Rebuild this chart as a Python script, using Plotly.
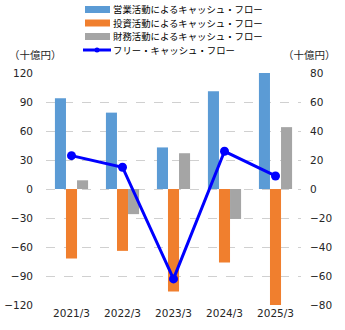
import plotly.graph_objects as go

# Cash flow figures (billion yen) by fiscal year end
periods = ["2021/3", "2022/3", "2023/3", "2024/3", "2025/3"]
operating_cf = [94, 79, 43, 101, 131]
investing_cf = [-72, -64, -106, -76, -122]
financing_cf = [9, -26, 37, -31, 64]
free_cf = [23, 15, -62, 26, 9]

left_ticks = [-120, -90, -60, -30, 0, 30, 60, 90, 120]
right_ticks = [-80, -60, -40, -20, 0, 20, 40, 60, 80]

bar_names = ["営業活動によるキャッシュ・フロー",
             "投資活動によるキャッシュ・フロー",
             "財務活動によるキャッシュ・フロー"]
line_name = "フリー・キャッシュ・フロー"
bar_colors = ["#5B9BD5", "#F07F2E", "#A5A5A5"]
line_color = "#0000FF"
unit_label = "（十億円）"

W, H = 345, 330
ML, MR, MT, MB = 46, 44, 73, 25
PW, PH = W - ML - MR, H - MT - MB

TICK_FONT = dict(family="DejaVu Sans", size=10.5, color="#262626")
JP_FONT = dict(family="Noto Sans CJK JP", size=9.4, color="#000000")


def px_x(px):
    return (px - ML) / PW


def px_y(py):
    return (H - MB - py) / PH


fig = go.Figure()

for name, vals, col in zip(bar_names, [operating_cf, investing_cf, financing_cf], bar_colors):
    fig.add_trace(go.Bar(x=periods, y=vals, name=name, marker=dict(color=col, line=dict(width=0)),
                         yaxis="y", showlegend=False))

fig.add_trace(go.Scatter(x=periods, y=free_cf, name=line_name, mode="lines+markers",
                         line=dict(color=line_color, width=3),
                         marker=dict(color=line_color, size=9),
                         yaxis="y2", showlegend=False))

# Hand-built compact legend
shapes = []
annotations = []
row_y = [9.5, 23, 36.5, 50]
for i, (name, col) in enumerate(zip(bar_names, bar_colors)):
    yc = row_y[i]
    shapes.append(dict(type="rect", xref="paper", yref="paper",
                       x0=px_x(85), x1=px_x(110), y0=px_y(yc + 3.5), y1=px_y(yc - 3.5),
                       fillcolor=col, line=dict(width=0)))
    annotations.append(dict(text=name, xref="paper", yref="paper", x=px_x(111), y=px_y(yc),
                            xanchor="left", yanchor="middle", showarrow=False, font=JP_FONT))
yc = row_y[3]
shapes.append(dict(type="line", xref="paper", yref="paper",
                   x0=px_x(83), x1=px_x(111), y0=px_y(yc), y1=px_y(yc),
                   line=dict(color=line_color, width=3)))
shapes.append(dict(type="circle", xref="paper", yref="paper",
                   x0=px_x(94.5), x1=px_x(99.5), y0=px_y(yc + 2.5), y1=px_y(yc - 2.5),
                   fillcolor=line_color, line=dict(width=0)))
annotations.append(dict(text=line_name, xref="paper", yref="paper", x=px_x(111), y=px_y(yc),
                        xanchor="left", yanchor="middle", showarrow=False, font=JP_FONT))

# Unit labels above both value axes
unit_font = dict(family="Noto Sans CJK JP", size=10.5, color="#262626")
annotations.append(dict(text=unit_label, xref="paper", yref="paper", x=px_x(35), y=px_y(54),
                        xanchor="center", yanchor="middle", showarrow=False, font=unit_font))
annotations.append(dict(text=unit_label, xref="paper", yref="paper", x=px_x(309), y=px_y(54),
                        xanchor="center", yanchor="middle", showarrow=False, font=unit_font))

n = len(periods)
fig.update_layout(
    width=W, height=H,
    margin=dict(l=ML, r=MR, t=MT, b=MB, pad=0, autoexpand=False),
    paper_bgcolor="white", plot_bgcolor="white",
    barmode="group", bargap=0.35, bargroupgap=0,
    shapes=shapes, annotations=annotations,
    xaxis=dict(type="category", categoryorder="array", categoryarray=periods,
               range=[-0.5, n - 0.5], showline=False, showgrid=False, ticks="",
               tickfont=TICK_FONT, zeroline=False, automargin=False),
    xaxis2=dict(overlaying="x", anchor="free", position=0.5, type="linear",
                range=[-0.5, n - 0.5], tickmode="array",
                tickvals=[k - 0.5 for k in range(n + 1)],
                showticklabels=False, showline=True, linecolor="#8c8c8c", linewidth=1,
                ticks="inside", ticklen=4, tickcolor="#8c8c8c", showgrid=False,
                zeroline=False, automargin=False),
    yaxis=dict(range=[-120, 120], tickmode="array", tickvals=left_ticks,
               showgrid=True, gridcolor="#d0d0d0", griddash="dash", gridwidth=1,
               zeroline=False, showline=False, ticks="", automargin=False,
               tickfont=TICK_FONT, ticklabelstandoff=12),
    yaxis2=dict(range=[-80, 80], overlaying="y", side="right", tickmode="array",
                tickvals=right_ticks, showgrid=False, zeroline=False, showline=False,
                ticks="", tickfont=TICK_FONT, ticklabelstandoff=8, automargin=False),
)

fig.write_html("out.html")
